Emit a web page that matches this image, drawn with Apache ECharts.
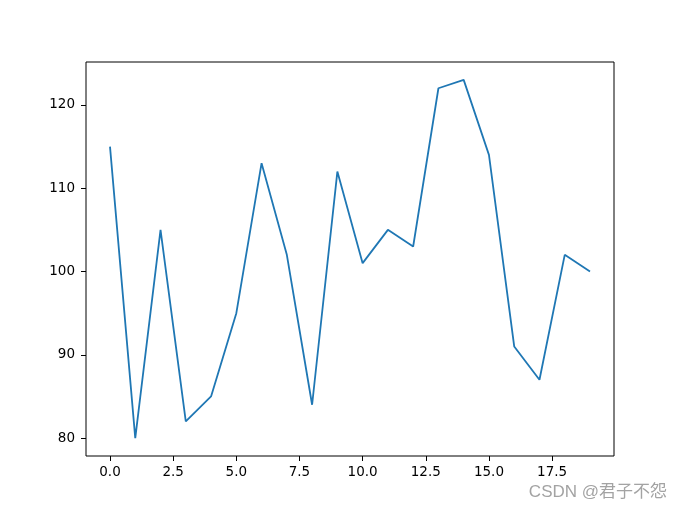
<!DOCTYPE html>
<html>
<head>
<meta charset="utf-8">
<script src="https://cdn.jsdelivr.net/npm/echarts@6/dist/echarts.min.js"></script>
<style>
  body { margin: 0; background: #fff; }
</style>
</head>
<body>
<div id="main" style="width: 682px; height: 512px"></div>
<script>
// data
var xValues = [0, 1, 2, 3, 4, 5, 6, 7, 8, 9, 10, 11, 12, 13, 14, 15, 16, 17, 18, 19];
var yValues = [115, 80, 105, 82, 85, 95, 113, 102, 84, 112, 101, 105, 103, 122, 123, 114, 91, 87, 102, 100];
var xTicks = [0, 2.5, 5, 7.5, 10, 12.5, 15, 17.5];
var yTicks = [80, 90, 100, 110, 120];

var chart = echarts.init(document.getElementById('main'));
var points = xValues.map(function (x, i) { return [x, yValues[i]]; });

var option = {
  animation: false,
  grid: {
    left: 86, top: 62, right: 68, bottom: 56,
    show: true, borderColor: '#000', borderWidth: 1, backgroundColor: '#fff'
  },
  xAxis: {
    type: 'value',
    min: -0.95, max: 19.95,
    axisLine: { show: false, onZero: false },
    splitLine: { show: false },
    axisTick: { show: true, customValues: xTicks, length: 5, lineStyle: { color: '#000' } },
    axisLabel: {
      customValues: xTicks, color: '#000', fontSize: 13.5, fontFamily: 'DejaVu Sans', margin: 9,
      formatter: function (v) { return v.toFixed(1); }
    }
  },
  yAxis: {
    type: 'value',
    min: 77.85, max: 125.15,
    axisLine: { show: false, onZero: false },
    splitLine: { show: false },
    axisTick: { show: true, customValues: yTicks, length: 5, lineStyle: { color: '#000' } },
    axisLabel: { customValues: yTicks, color: '#000', fontSize: 13.5, fontFamily: 'DejaVu Sans', margin: 11 }
  },
  series: [{
    type: 'line',
    data: points,
    showSymbol: false,
    lineStyle: { color: '#1f77b4', width: 1.8 }
  }],
  graphic: [{
    type: 'text',
    right: 15, top: 484,
    style: { text: 'CSDN @君子不怨', fill: '#a3a3a3', font: '17px "Liberation Sans", "Noto Sans CJK SC", sans-serif' }
  }]
};
chart.setOption(option);
</script>
</body>
</html>
